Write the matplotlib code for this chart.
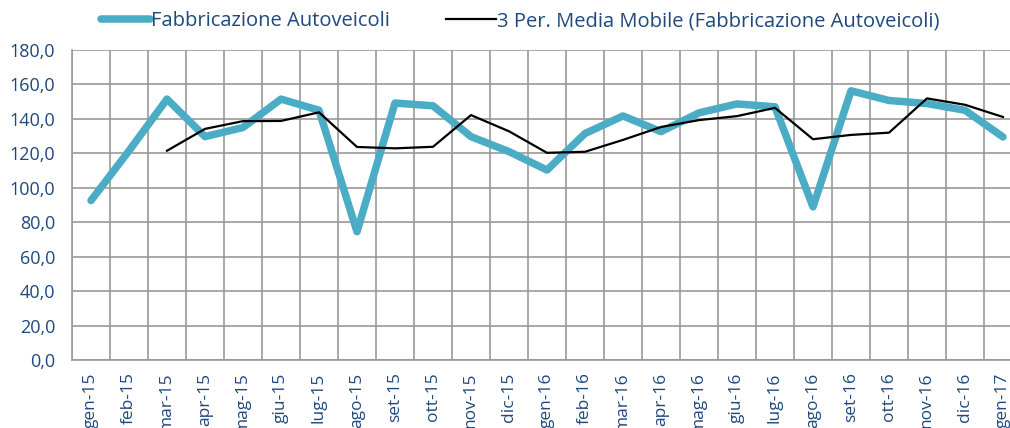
import matplotlib
matplotlib.use("Agg")
import matplotlib.pyplot as plt
from matplotlib.ticker import FuncFormatter, MultipleLocator

months = ["gen-15", "feb-15", "mar-15", "apr-15", "mag-15", "giu-15", "lug-15",
          "ago-15", "set-15", "ott-15", "nov-15", "dic-15", "gen-16", "feb-16",
          "mar-16", "apr-16", "mag-16", "giu-16", "lug-16", "ago-16", "set-16",
          "ott-16", "nov-16", "dic-16", "gen-17"]

production = [92.6, 121.5, 151.5, 129.7, 135.0, 151.5, 145.0, 74.5, 149.2, 147.6,
              129.7, 121.0, 110.3, 131.5, 141.7, 132.6, 143.5, 148.7, 147.0, 88.9,
              156.3, 150.7, 148.9, 145.0, 129.5]

moving_avg = [None, None, 121.5, 134.2, 138.7, 138.8, 143.8, 123.7, 122.9, 123.8,
              142.2, 132.8, 120.3, 120.9, 127.8, 135.3, 139.3, 141.6, 146.4, 128.2,
              130.7, 132.0, 151.9, 148.2, 141.1]

series_labels = ["Fabbricazione Autoveicoli",
                 "3 Per. Media Mobile (Fabbricazione Autoveicoli)"]

TEXT = "#1F497D"
CYAN = "#4BACC6"
GRID = "#9A9A9A"
FONT = "Open Sans"

W, H = 1010, 428
fig = plt.figure(figsize=(W / 100, H / 100), dpi=100)
left, right, top, bottom = 72, 1022, 50, 360
ax = fig.add_axes([left / W, (H - bottom) / H, (right - left) / W, (bottom - top) / H])

x = list(range(len(months)))
l1, = ax.plot(x, production, color=CYAN, lw=5.4, solid_joinstyle="round",
              solid_capstyle="round", label=series_labels[0], zorder=3)
ma_x = [i for i, v in zip(x, moving_avg) if v is not None]
ma_y = [v for v in moving_avg if v is not None]
l2, = ax.plot(ma_x, ma_y, color="black", lw=1.6, label=series_labels[1], zorder=4)

ax.set_xlim(-0.5, len(months) - 0.5)
ax.set_ylim(0, 180)
ax.yaxis.set_major_locator(MultipleLocator(20))
ax.yaxis.set_major_formatter(FuncFormatter(lambda v, p: f"{v:.1f}".replace(".", ",")))

ax.set_xticks(x)
ax.set_xticklabels(months, rotation=90, va="top", ha="center",
                   fontsize=12.5, color=TEXT, family=FONT)
ax.set_xticks([i - 0.5 for i in range(len(months) + 1)], minor=True)
for lab in ax.get_yticklabels():
    lab.set_family(FONT)
ax.tick_params(axis="y", length=0, pad=12, labelsize=13, labelcolor=TEXT)
ax.tick_params(axis="x", which="major", length=0, pad=9)
ax.tick_params(axis="x", which="minor", length=0)

ax.grid(True, axis="y", which="major", color=GRID, lw=1.2)
ax.grid(True, axis="x", which="minor", color=GRID, lw=1.2)
ax.set_axisbelow(True)
for s in ["top", "right"]:
    ax.spines[s].set_visible(False)
for s in ["left", "bottom"]:
    ax.spines[s].set_color(GRID)
    ax.spines[s].set_linewidth(1.2)

leg = fig.legend(handles=[l1, l2], loc="center", bbox_to_anchor=(520 / W, 1 - 21 / H),
                 ncol=2, frameon=False, handlelength=2.45, handletextpad=0.05,
                 columnspacing=2.8, prop={"family": FONT, "size": 14.5})
for t in leg.get_texts():
    t.set_color(TEXT)

fig.savefig("out.png", dpi=100)
